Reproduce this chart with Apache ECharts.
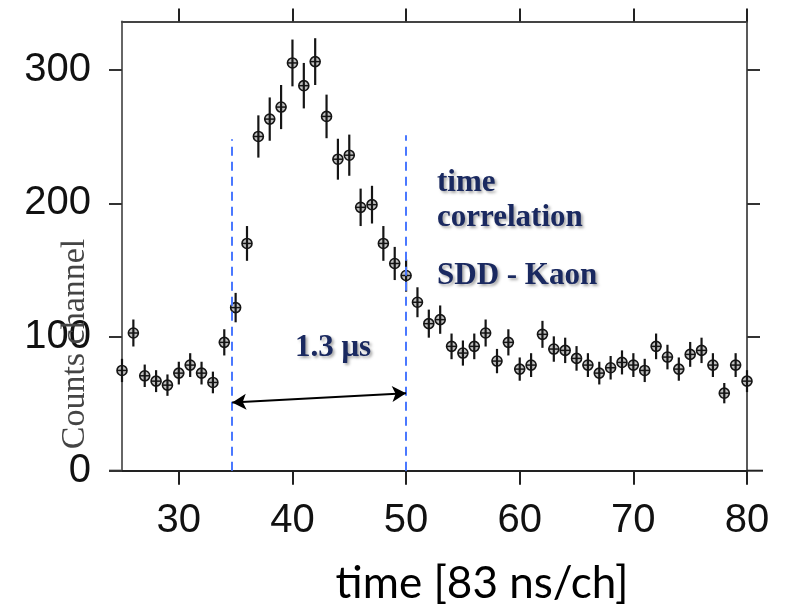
<!DOCTYPE html>
<html>
<head>
<meta charset="utf-8">
<script src="https://cdn.jsdelivr.net/npm/echarts@6/dist/echarts.min.js"></script>
<style>html,body{margin:0;padding:0;background:#fff}#c{width:788px;height:606px}</style>
</head>
<body>
<div id="c"></div>
<script>
// channel numbers (time, 83 ns/ch)
const channels = [25,26,27,28,29,30,31,32,33,34,35,36,37,38,39,40,41,42,43,44,45,46,47,48,49,50,51,52,53,54,55,56,57,58,59,60,61,62,63,64,65,66,67,68,69,70,71,72,73,74,75,76,77,78,79,80];
// counts per channel
const counts = [75,103,71,67,64,73,79,73,66,96,122,170,250,263,272,305,288,306,265,233,236,197,199,170,155,146,126,110,113,93,88,93,103,82,96,76,79,102,91,90,84,79,73,77,81,79,75,93,85,76,87,90,79,58,79,67];
// statistical error per channel
const errors = [8.7,10.1,8.4,8.2,8,8.5,8.9,8.5,8.1,9.8,11,13,15.8,16.2,16.5,17.5,17,17.5,16.3,15.3,15.4,14,14.1,13,12.4,12.1,11.2,10.5,10.6,9.6,9.4,9.6,10.1,9.1,9.8,8.7,8.9,10.1,9.5,9.5,9.2,8.9,8.5,8.8,9,8.9,8.7,9.6,9.2,8.7,9.3,9.5,8.9,7.6,8.9,8.2];
// tick values
const xTicks = [30,40,50,60,70,80];
const yTicks = [0,100,200,300];
const yTicksRight = [100,200,300];
// time window (blue dashed lines): [x, top count]
const windowLines = [[34.7,248],[50,251]];
// double arrow endpoints
const arrowStart = [34.7,51];
const arrowEnd = [50,58];

const seriesData = channels.map((c,i)=>[c,counts[i],errors[i]]);

const chart = echarts.init(document.getElementById('c'));
const titleFont = "bold 31px 'Liberation Serif', 'Times New Roman', serif";
const navy = '#1a2960';
function annot(text, x, y, align){
  return {type:'text', z:50, style:{text:text, x:x, y:y, font:titleFont, fill:navy,
    textAlign:align||'left', textVerticalAlign:'middle',
    textShadowColor:'rgba(0,0,0,0.35)', textShadowBlur:3, textShadowOffsetX:2, textShadowOffsetY:2}};
}
const option = {
  animation:false,
  backgroundColor:'#fff',
  grid:{left:122, right:41, top:21.5, bottom:135.3},
  xAxis:[{
    type:'value', min:25, max:80, position:'bottom',
    axisLine:{show:true, onZero:false, lineStyle:{color:'#222', width:2}},
    axisTick:{show:true, inside:false, length:14, customValues:xTicks, lineStyle:{color:'#222', width:2}},
    axisLabel:{show:true, customValues:xTicks, margin:30, fontSize:40, color:'#111', fontFamily:'Liberation Sans'},
    splitLine:{show:false}
  },{
    type:'value', min:25, max:80, position:'top',
    axisLine:{show:true, onZero:false, lineStyle:{color:'#444', width:2}},
    axisTick:{show:true, inside:false, length:13, customValues:xTicks, lineStyle:{color:'#222', width:2}},
    axisLabel:{show:false},
    splitLine:{show:false}
  }],
  yAxis:[{
    type:'value', min:0, max:336, position:'left',
    axisLine:{show:true, onZero:false, lineStyle:{color:'#666', width:2}},
    axisTick:{show:true, inside:false, length:13, customValues:yTicks, lineStyle:{color:'#333', width:2}},
    axisLabel:{show:true, customValues:yTicks, margin:31, fontSize:40, color:'#111', fontFamily:'Liberation Sans'},
    splitLine:{show:false}
  },{
    type:'value', min:0, max:336, position:'right',
    axisLine:{show:true, onZero:false, lineStyle:{color:'#222', width:1.5}},
    axisTick:{show:true, inside:false, length:13, customValues:yTicksRight, lineStyle:{color:'#333', width:2}},
    axisLabel:{show:false},
    splitLine:{show:false}
  }],
  series:[{
    type:'scatter', xAxisIndex:0, yAxisIndex:0,
    data:seriesData, symbol:'circle', symbolSize:10, z:3,
    itemStyle:{color:'rgba(100,100,100,0.4)', borderColor:'#151515', borderWidth:1.6, opacity:1},
    markLine:{
      silent:true, symbol:['none','none'], label:{show:false},
      lineStyle:{color:'#4a78ff', width:2, type:[9,6]},
      data: windowLines.map(w=>[{coord:[w[0],0]},{coord:[w[0],w[1]]}])
    }
  },{
    type:'custom', xAxisIndex:0, yAxisIndex:0, z:4,
    data:seriesData,
    renderItem:function(params, api){
      const x=api.value(0), y=api.value(1), e=api.value(2);
      const p=api.coord([x,y]), lo=api.coord([x,y-e]), hi=api.coord([x,y+e]);
      return {type:'group', children:[
        {type:'line', shape:{x1:p[0],y1:lo[1],x2:p[0],y2:hi[1]}, style:{stroke:'#151515', lineWidth:2.2}},
        {type:'line', shape:{x1:p[0]-5,y1:p[1],x2:p[0]+5,y2:p[1]}, style:{stroke:'#151515', lineWidth:1.5}}
      ]};
    }
  },{
    type:'line', xAxisIndex:0, yAxisIndex:0, data:[], z:5,
    markLine:{
      silent:true, symbol:['arrow','arrow'], symbolSize:[12,14], label:{show:false},
      lineStyle:{color:'#000', width:2, type:'solid'},
      data:[[{coord:arrowStart},{coord:arrowEnd}]]
    }
  }],
  graphic:[
    {type:'line', shape:{x1:109,y1:470.7,x2:122,y2:470.7}, style:{stroke:'#222', lineWidth:2}},
    {type:'line', shape:{x1:747,y1:470.7,x2:763,y2:470.7}, style:{stroke:'#222', lineWidth:2}},
    annot('time', 437, 183),
    annot('correlation', 437, 218),
    annot('SDD - Kaon', 437, 276),
    annot('1.3 \u03bcs', 333, 348, 'center'),
    {type:'text', z:40, rotation:Math.PI/2, x:75, y:344,
      style:{text:'Counts channel', x:0, y:0, font:"34px 'Liberation Serif', 'Times New Roman', serif", fill:'#444', textAlign:'center', textVerticalAlign:'middle'}},
    {type:'text', z:40, style:{text:'time [83 ns/ch]', x:482, y:584, font:"44px Lato, 'Open Sans', sans-serif", fill:'#000', textAlign:'center', textVerticalAlign:'middle'}}
  ]
};
chart.setOption(option);
</script>
</body>
</html>
